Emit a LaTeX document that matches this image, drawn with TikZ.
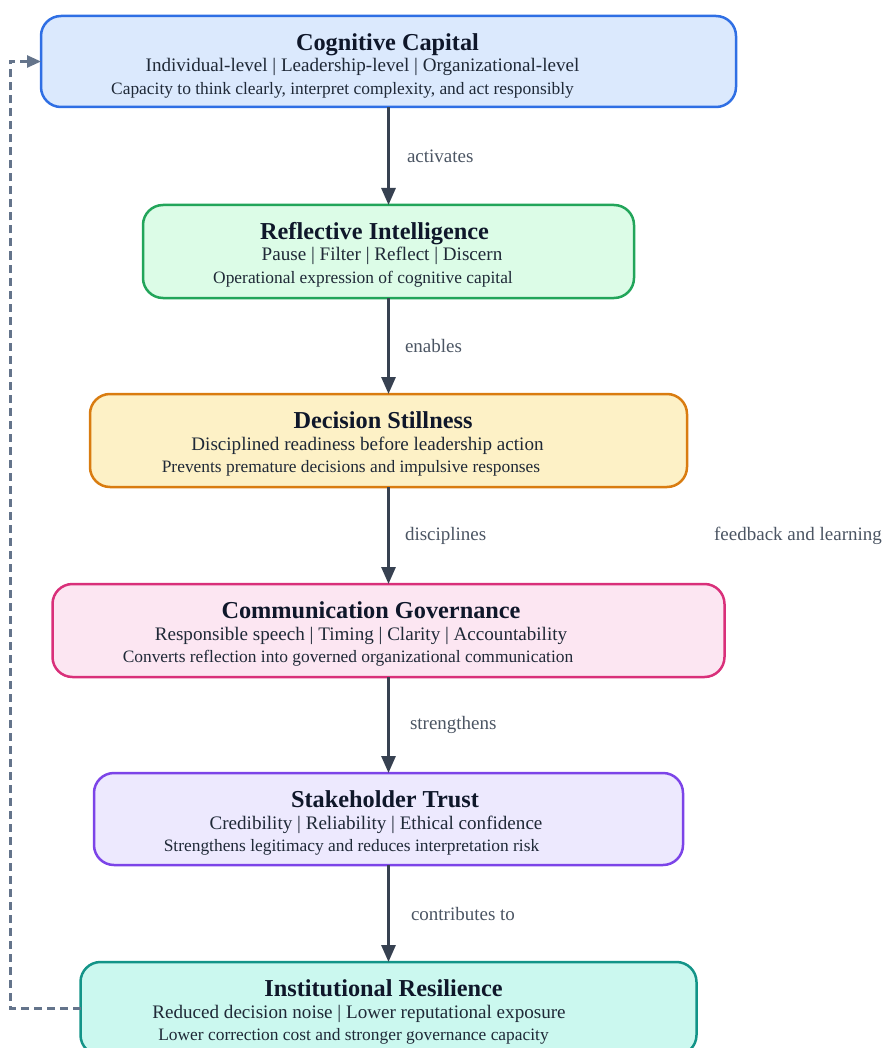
\documentclass[tikz,border=0pt]{standalone}
\usepackage{fontspec}
\setmainfont{Liberation Serif}
\newfontfamily\tnr{Liberation Serif}
\usetikzlibrary{calc,arrows.meta}
\definecolor{bBlue}{HTML}{2F6FE4}\definecolor{fBlue}{HTML}{DBE9FD}
\definecolor{bGreen}{HTML}{22A55A}\definecolor{fGreen}{HTML}{DCFCE7}
\definecolor{bOrange}{HTML}{D97C10}\definecolor{fOrange}{HTML}{FDF1C6}
\definecolor{bPink}{HTML}{D9307A}\definecolor{fPink}{HTML}{FCE6F2}
\definecolor{bPurple}{HTML}{7C44E8}\definecolor{fPurple}{HTML}{EDE9FE}
\definecolor{bTeal}{HTML}{139488}\definecolor{fTeal}{HTML}{CBF8EF}
\definecolor{titleC}{HTML}{0F172A}
\definecolor{bodyC}{HTML}{1F2937}
\definecolor{labC}{HTML}{4B5563}
\definecolor{arrC}{HTML}{374151}
\definecolor{fbC}{HTML}{64748B}
\begin{document}
\begin{tikzpicture}[x=1pt,y=-1pt,
  box/.style={draw, rounded corners=20pt, line width=2.5pt, inner sep=0pt, outer sep=0pt},
  ttl/.style={anchor=base, inner sep=0pt, text=titleC, font=\tnr\fontsize{24.3}{26}\selectfont\bfseries},
  lineA/.style={anchor=base, inner sep=0pt, text=bodyC, font=\tnr\fontsize{19.1}{22}\selectfont},
  lineB/.style={anchor=base, inner sep=0pt, text=bodyC, font=\tnr\fontsize{17.4}{19}\selectfont},
  elab/.style={anchor=west, inner sep=0pt, text=labC, font=\tnr\fontsize{19}{22}\selectfont},
  arr/.style={draw=arrC, line width=3pt, -{Triangle[length=17pt,width=14pt]}},
  fb/.style={draw=fbC, line width=2.5pt, dash pattern=on 8pt off 5pt, -{Triangle[length=14pt,width=12pt]}}
]
\useasboundingbox (0,0) rectangle (884,1048);

\node[box, draw=bBlue, fill=fBlue, minimum width=695pt, minimum height=91pt] (b1) at (388.5,61.5) {};
\node[box, draw=bGreen, fill=fGreen, minimum width=491pt, minimum height=93pt] (b2) at (388.5,251.5) {};
\node[box, draw=bOrange, fill=fOrange, minimum width=597pt, minimum height=93pt] (b3) at (388.5,440.5) {};
\node[box, draw=bPink, fill=fPink, minimum width=672pt, minimum height=93pt] (b4) at (388.5,630.5) {};
\node[box, draw=bPurple, fill=fPurple, minimum width=589pt, minimum height=92pt] (b5) at (388.5,819) {};
\node[box, draw=bTeal, fill=fTeal, minimum width=616pt, minimum height=93pt] (b6) at (388.5,1008.5) {};

\node[ttl] (t1) at ($(b1.north)+(-1,34.5)$) {Cognitive Capital};
\node[lineA] (t1a) at ($(b1.north)+(-26,56)$) {Individual-level | Leadership-level | Organizational-level};
\node[lineB] (t1b) at ($(b1.north)+(-46,78.5)$) {Capacity to think clearly, interpret complexity, and act responsibly};

\node[ttl] (t2) at ($(b2.north)+(-14,34.5)$) {Reflective Intelligence};
\node[lineA] (t2a) at ($(b2.north)+(-6.5,56)$) {Pause | Filter | Reflect | Discern};
\node[lineB] (t2b) at ($(b2.north)+(-25.5,78.5)$) {Operational expression of cognitive capital};

\node[ttl] (t3) at ($(b3.north)+(-5.5,34.5)$) {Decision Stillness};
\node[lineA] (t3a) at ($(b3.north)+(-21,56)$) {Disciplined readiness before leadership action};
\node[lineB] (t3b) at ($(b3.north)+(-37.5,78.5)$) {Prevents premature decisions and impulsive responses};

\node[ttl] (t4) at ($(b4.north)+(-17.5,34.5)$) {Communication Governance};
\node[lineA] (t4a) at ($(b4.north)+(-27.5,56)$) {Responsible speech | Timing | Clarity | Accountability};
\node[lineB] (t4b) at ($(b4.north)+(-40.5,78.5)$) {Converts reflection into governed organizational communication};

\node[ttl] (t5) at ($(b5.north)+(-3.5,34.5)$) {Stakeholder Trust};
\node[lineA] (t5a) at ($(b5.north)+(-12.5,56)$) {Credibility | Reliability | Ethical confidence};
\node[lineB] (t5b) at ($(b5.north)+(-37,78.5)$) {Strengthens legitimacy and reduces interpretation risk};

\node[ttl] (t6) at ($(b6.north)+(-5,34.5)$) {Institutional Resilience};
\node[lineA] (t6a) at ($(b6.north)+(-29.5,56)$) {Reduced decision noise | Lower reputational exposure};
\node[lineB] (t6b) at ($(b6.north)+(-35,78.5)$) {Lower correction cost and stronger governance capacity};

\draw[arr] (b1) -- (b2) node[elab, midway, xshift=17pt] (l1) {activates};
\draw[arr] (b2) -- (b3) node[elab, midway, xshift=15pt] (l2) {enables};
\draw[arr] (b3) -- (b4) node[elab, midway, xshift=15pt] (l3) {disciplines};
\draw[arr] (b4) -- (b5) node[elab, midway, xshift=20pt] (l4) {strengthens};
\draw[arr] (b5) -- (b6) node[elab, midway, xshift=21pt] (l5) {contributes to};

\draw[fb] (b6.west) -- ++(-70,0) |- (b1.west);
\node[elab, anchor=center] (fbl) at (798,536) {feedback and learning};
\end{tikzpicture}
\end{document}
